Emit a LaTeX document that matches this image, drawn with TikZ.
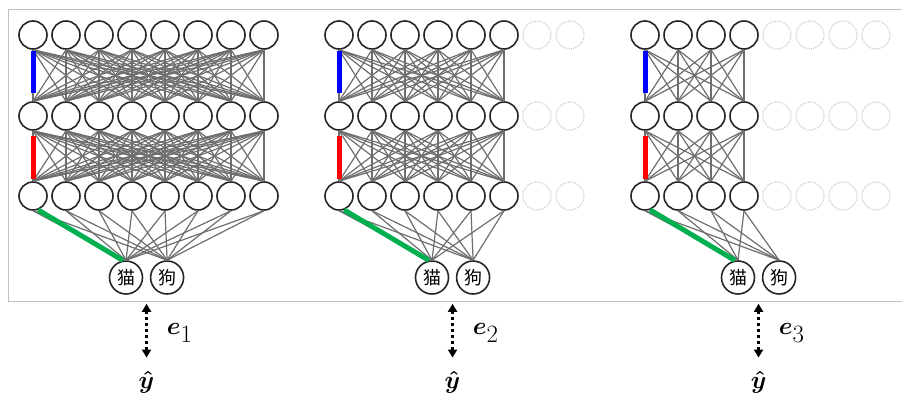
\documentclass[tikz,border=0pt]{standalone}
\usepackage{fontspec}
\newfontfamily\cjkfont{Noto Sans CJK SC}
\usepackage{amsmath,amssymb}
\usetikzlibrary{arrows.meta,positioning,calc}
\definecolor{EdgeGray}{HTML}{6E6E6E}
\definecolor{GhostGray}{HTML}{C8C8C8}
\definecolor{FrameGray}{HTML}{C0C0C0}
\definecolor{PathBlue}{HTML}{0000FF}
\definecolor{PathRed}{HTML}{FF0000}
\definecolor{PathGreen}{HTML}{00B050}

\begin{document}
\begin{tikzpicture}[x=1pt,y=-1pt,>=Triangle]
\tikzstyle{neuron}=[circle,draw=black!85,line width=1.6pt,fill=white,minimum size=28pt,inner sep=0pt]
\tikzstyle{ghost}=[circle,draw=GhostGray,line width=1.3pt,dash pattern=on 1pt off 1.3pt,minimum size=28pt,inner sep=0pt]
\tikzstyle{outneuron}=[circle,draw=black!85,line width=1.6pt,fill=white,minimum size=33pt,inner sep=0pt,
                       font=\cjkfont\fontsize{18}{18}\selectfont]
\tikzstyle{wire}=[draw=EdgeGray,line width=1.2pt]
\tikzstyle{hot}=[line width=5pt]
\tikzstyle{err}=[<->,line width=2.6pt,dash pattern=on 3pt off 3pt,
                 arrows={Triangle[length=8pt,width=9pt]-Triangle[length=8pt,width=9pt]}]
\tikzstyle{mathlabel}=[inner sep=0pt,font=\fontsize{36}{40}\selectfont]
\useasboundingbox (0,0) rectangle (906,402);
% frame, open on the right
\draw[FrameGray,line width=1pt] (902,9) -- (8,9) -- (8,301) -- (902,301);
\foreach \net/\x/\n in {1/33/8,2/339/6,3/645/4}{
  % hidden layers, pruned units drawn dotted
  \foreach \r/\y in {1/35,2/116,3/196}{
    \foreach \c in {1,...,8}{
      \pgfmathsetmacro\cx{\x+33*(\c-1)}
      \ifnum\c>\n
        \node[ghost] (h\net-\r-\c) at (\cx,\y) {};
      \else
        \node[neuron] (h\net-\r-\c) at (\cx,\y) {};
      \fi
    }
  }
  \node[outneuron] (cat\net) at (\x+93,277.5) {猫};
  \node[outneuron,right=6.5pt of cat\net] (dog\net) {狗};
  \foreach \r/\s in {1/2,2/3}
    \foreach \i in {1,...,\n}
      \foreach \j in {1,...,\n}
        \draw[wire] (h\net-\r-\i.south) -- (h\net-\s-\j.north);
  \foreach \i in {1,...,\n}{
    \draw[wire] (h\net-3-\i.south) -- (cat\net.north);
    \draw[wire] (h\net-3-\i.south) -- (dog\net.north);
  }
  \draw[hot,PathBlue,shorten <=1pt,shorten >=8pt] (h\net-1-1.south) -- (h\net-2-1.north);
  \draw[hot,PathRed,shorten <=5pt,shorten >=2pt] (h\net-2-1.south) -- (h\net-3-1.north);
  \draw[hot,PathGreen] (h\net-3-1.-70) -- (cat\net.100);
  % error against the target
  \coordinate (tip\net) at ($(cat\net.south)!0.5!(dog\net.south)+(0,9)$);
  \node[mathlabel] (yhat\net) at ($(tip\net)+(0,78)$) {$\boldsymbol{\hat{y}}$};
  \node[mathlabel,anchor=base west] (e\net) at ($(tip\net)+(20,31)$) {$\boldsymbol{e}_{\net}$};
  \draw[err,shorten >=13pt] (tip\net) -- (yhat\net.north);
}
\end{tikzpicture}
\end{document}
